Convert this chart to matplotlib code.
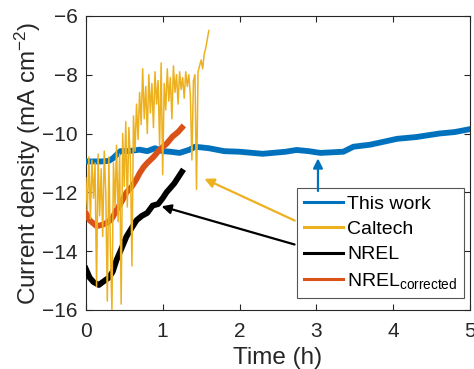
import numpy as np
import matplotlib.pyplot as plt

plt.rcParams['font.family'] = ['Liberation Sans', 'DejaVu Sans']
plt.rcParams['mathtext.fontset'] = 'custom'
plt.rcParams['mathtext.rm'] = 'Liberation Sans'
plt.rcParams['mathtext.it'] = 'Liberation Sans:italic'

# This work
t_work = [0, 0.1, 0.2, 0.3, 0.35, 0.45, 0.55, 0.7, 0.8, 0.9, 1.0, 1.1, 1.22, 1.35,
          1.42, 1.6, 1.8, 2.0, 2.3, 2.6, 2.74, 2.9, 3.05, 3.35, 3.48, 3.7, 4.05,
          4.3, 4.6, 4.8, 5.0]
j_work = [-10.95, -10.95, -10.95, -10.93, -10.85, -10.6, -10.6, -10.55, -10.6, -10.5,
          -10.6, -10.62, -10.66, -10.55, -10.45, -10.5, -10.6, -10.62, -10.69, -10.62,
          -10.56, -10.6, -10.66, -10.62, -10.45, -10.38, -10.18, -10.12, -10.0, -9.95,
          -9.85]

# Caltech (sampled every 0.02 h)
t_caltech = np.linspace(0, 1.6, 81)
j_caltech = [-11.5, -12.6, -10.8, -12.9, -10.9, -12.2, -11.0, -15.2, -10.7, -12.8,
             -11.2, -13.5, -10.6, -12.0, -15.7, -10.8, -13.9, -16.0, -11.0, -12.5,
             -10.4, -13.0, -10.7, -15.8, -10.0, -11.8, -9.6, -12.5, -9.8, -10.9,
             -14.5, -9.4, -10.6, -9.0, -10.2, -8.6, -9.7, -7.8, -9.5, -8.4,
             -10.0, -8.0, -9.3, -8.3, -9.8, -7.9, -9.0, -8.2, -10.4, -7.6,
             -11.4, -8.3, -9.2, -7.8, -8.9, -8.1, -9.5, -7.7, -8.6, -8.0,
             -9.0, -7.9, -8.5, -8.1, -8.8, -7.9, -8.4, -8.0, -8.7, -10.9,
             -8.2, -8.0, -11.9, -7.9, -7.7, -7.5, -7.8, -7.3, -7.1, -6.8,
             -6.5]

# NREL
t_nrel = [0.0, 0.05, 0.1, 0.17, 0.22, 0.3, 0.35, 0.4, 0.45, 0.53, 0.6, 0.66, 0.73,
          0.8, 0.87, 0.94, 1.0, 1.05, 1.1, 1.15, 1.2, 1.25]
j_nrel = [-14.6, -14.9, -15.05, -15.15, -15.05, -14.9, -14.7, -14.3, -14.0, -13.5,
          -13.2, -12.95, -12.8, -12.7, -12.45, -12.4, -12.2, -12.0, -11.85, -11.7,
          -11.5, -11.3]

# NREL corrected
t_corr = [0, 0.05, 0.14, 0.22, 0.3, 0.35, 0.4, 0.47, 0.53, 0.6, 0.66, 0.7, 0.75,
          0.8, 0.88, 0.96, 1.05, 1.13, 1.2, 1.25]
j_corr = [-12.7, -12.95, -13.15, -13.1, -13.0, -12.85, -12.6, -12.3, -12.0, -11.8,
          -11.55, -11.35, -11.15, -11.0, -10.8, -10.55, -10.35, -10.1, -9.95, -9.8]

blue = '#0072BD'
yellow = '#EDB120'
orange = '#D95319'
axc = '#262626'

fig = plt.figure(figsize=(4.74, 3.69), dpi=100)
ax = fig.add_axes([0.181, 0.160, 0.811, 0.797])

ax.plot(t_work, j_work, color=blue, lw=4.2, label='This work', zorder=3)
ax.plot(t_caltech, j_caltech, color=yellow, lw=1.1, label='Caltech', zorder=5)
ax.plot(t_nrel, j_nrel, color='black', lw=4.2, label='NREL', zorder=4)
ax.plot(t_corr, j_corr, color=orange, lw=4.2, label=r'NREL$_{\mathrm{corrected}}$', zorder=4)

ax.set_xlim(0, 5)
ax.set_ylim(-16, -6)
ax.set_xticks([0, 1, 2, 3, 4, 5])
ax.set_yticks([-16, -14, -12, -10, -8, -6])
ax.tick_params(direction='in', top=True, right=True, labelsize=15, colors=axc,
               length=4, width=0.8)
ax.tick_params(axis='x', pad=9)
ax.tick_params(axis='y', pad=6)
for s in ax.spines.values():
    s.set_color(axc)
    s.set_linewidth(0.8)
ax.set_xlabel('Time (h)', fontsize=17.5, color=axc, labelpad=4)
ax.set_ylabel(r'Current density (mA cm$^{-2}$)', fontsize=17.5, color=axc, labelpad=-1)

leg = ax.legend(loc='lower right', bbox_to_anchor=(0.984, 0.041), borderaxespad=0,
                fontsize=14, frameon=True, fancybox=False, framealpha=1,
                edgecolor='#555555', handlelength=2.0, handletextpad=0.2,
                borderpad=0.35, labelspacing=0.4)
leg.get_frame().set_linewidth(0.8)
leg.set_zorder(6)
for line in leg.get_lines():
    line.set_linewidth(2.2)

# arrows from legend to curves
ax.annotate('', xy=(3.02, -10.75), xytext=(3.02, -12.05),
            arrowprops=dict(arrowstyle='-|>', color=blue, lw=1.6, mutation_scale=14), zorder=8)
ax.annotate('', xy=(1.51, -11.5), xytext=(2.75, -13.0),
            arrowprops=dict(arrowstyle='-|>', color=yellow, lw=1.6, mutation_scale=14), zorder=8)
ax.annotate('', xy=(0.95, -12.45), xytext=(2.75, -13.8),
            arrowprops=dict(arrowstyle='-|>', color='black', lw=1.6, mutation_scale=14), zorder=8)

fig.savefig('out.png', dpi=100)
